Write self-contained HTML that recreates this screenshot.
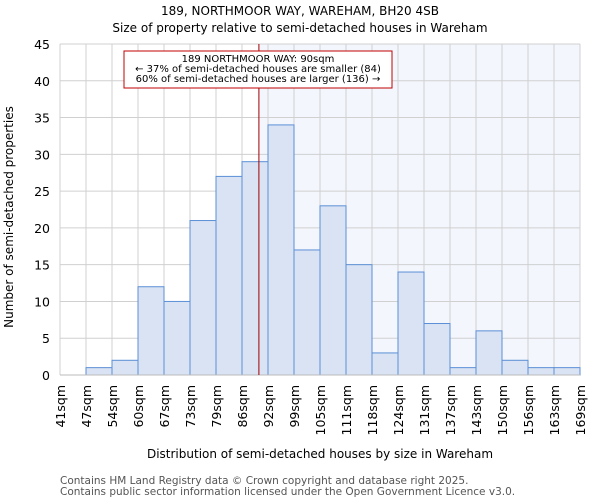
<!DOCTYPE html>
<html><head><meta charset="utf-8"><style>
body{margin:0;background:#fff;font-family:"DejaVu Sans","Liberation Sans",sans-serif;}
svg text{font-family:"DejaVu Sans","Liberation Sans",sans-serif;}
</style></head><body>
<svg id="chart" width="600" height="500" xmlns="http://www.w3.org/2000/svg">
<text x="300" y="15" text-anchor="middle" font-size="12" fill="#000">189, NORTHMOOR WAY, WAREHAM, BH20 4SB</text>
<text x="300" y="32" text-anchor="middle" font-size="12" fill="#000">Size of property relative to semi-detached houses in Wareham</text>
<g id="plot"></g>
<text x="320" y="458" text-anchor="middle" font-size="12" fill="#000">Distribution of semi-detached houses by size in Wareham</text>
<text transform="translate(13,217) rotate(-90)" text-anchor="middle" font-size="12" fill="#000">Number of semi-detached properties</text>
<text x="60" y="484" font-size="10.5" fill="#555">Contains HM Land Registry data © Crown copyright and database right 2025.</text>
<text x="60" y="495" font-size="10.5" fill="#555">Contains public sector information licensed under the Open Government Licence v3.0.</text>
</svg>
<script>
const binLabels=["41sqm","47sqm","54sqm","60sqm","67sqm","73sqm","79sqm","86sqm","92sqm","99sqm","105sqm","111sqm","118sqm","124sqm","131sqm","137sqm","143sqm","150sqm","156sqm","163sqm","169sqm"];
const counts=[0,1,2,12,10,21,27,29,34,17,23,15,3,14,7,1,6,2,1,1];
const yTicks=[0,5,10,15,20,25,30,35,40,45];
const markerBinPos=[7.65];
const annotationLines=["189 NORTHMOOR WAY: 90sqm","← 37% of semi-detached houses are smaller (84)","60% of semi-detached houses are larger (136) →"];
const L=60,R=580,T=44,B=375,YMAX=45;
const NS="http://www.w3.org/2000/svg";
const g=document.getElementById('plot');
const bw=(R-L)/counts.length;
const x=i=>L+i*bw;
const y=v=>B-(v/YMAX)*(B-T);
function mk(t,a){const e=document.createElementNS(NS,t);for(const k in a)e.setAttribute(k,a[k]);g.appendChild(e);return e;}
const mx=x(markerBinPos[0]);
let sh=mk('rect',{x:mx,y:T,width:R-mx,height:B-T,fill:'#f3f6fd'});


for(let i=0;i<=counts.length;i++){let l=mk('line',{x1:x(i),x2:x(i),y1:T,y2:B,stroke:'#d0d0d0','stroke-width':1});

}
yTicks.forEach(v=>{let l=mk('line',{x1:L,x2:R,y1:y(v),y2:y(v),stroke:'#d0d0d0','stroke-width':1});


let t=mk('text',{x:L-10,y:y(v)+5,'text-anchor':'end','font-size':12.5,fill:'#000'});t.textContent=v;

});
counts.forEach((c,i)=>{if(c<=0)return;let r=mk('rect',{x:x(i),y:y(c),width:bw,height:B-y(c),fill:'#dae3f3',stroke:'#5b8fd6','stroke-width':1});

});
binLabels.forEach((s,i)=>{let t=mk('text',{transform:`translate(${x(i)+5},385) rotate(-90)`,'text-anchor':'end','font-size':12.5,fill:'#000'});t.textContent=s;

});
let ax=mk('line',{x1:L,x2:R,y1:B,y2:B,stroke:'#bbb'});


let ml=mk('line',{x1:mx,x2:mx,y1:T,y2:B,stroke:'#a00000','stroke-width':1});


let box=mk('rect',{x:124,y:51,width:268,height:37,fill:'#fff',stroke:'#c00000','stroke-width':1});


annotationLines.forEach((s,i)=>{let t=mk('text',{x:258,y:62+i*10,'text-anchor':'middle','font-size':10,fill:'#000'});t.textContent=s;

});
</script>
</body></html>
